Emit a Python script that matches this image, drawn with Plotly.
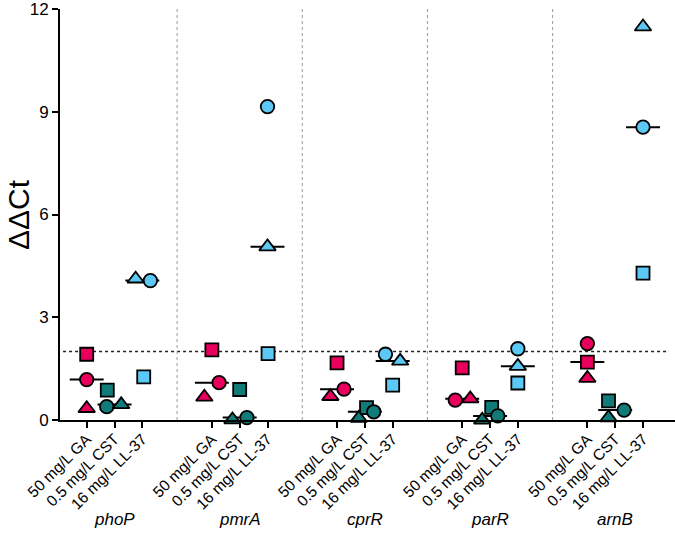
import numpy as np
import plotly.graph_objects as go

genes = ["phoP", "pmrA", "cprR", "parR", "arnB"]
treatments = ["50 mg/L GA", "0.5 mg/L CST", "16 mg/L LL-37"]

# values per gene: [GA, CST, LL-37]
square_vals = [[1.92, 0.87, 1.26], [2.05, 0.89, 1.94], [1.67, 0.36, 1.02], [1.52, 0.37, 1.08], [1.69, 0.56, 4.29]]
circle_vals = [[1.18, 0.39, 4.07], [1.09, 0.07, 9.15], [0.90, 0.24, 1.92], [0.58, 0.12, 2.08], [2.23, 0.29, 8.55]]
triangle_vals = [[0.34, 0.45, 4.12], [0.67, 0.01, 5.06], [0.69, 0.05, 1.72], [0.62, 0.00, 1.57], [1.22, 0.07, 11.48]]

# horizontal scatter offsets (category units) used to separate overlapping points
square_jit = [[0, -0.26, 0.05], [0, 0, 0.02], [0, 0.06, 0], [0, 0.06, 0], [0, -0.24, 0]]
circle_jit = [[0, -0.28, 0.29], [0.26, 0.26, 0], [0.25, 0.32, -0.26], [-0.25, 0.28, 0], [0, 0.32, 0]]
triangle_jit = [[0, 0.24, -0.24], [-0.27, -0.26, 0], [-0.24, -0.22, 0.27], [0.29, -0.28, 0], [0, -0.24, 0]]

threshold = 2
y_ticks = [0, 3, 6, 9, 12]

colors = ["#E8005C", "#117B79", "#5BC8F5"]
GROUP_STEP = 4.5

fig = go.Figure()

tickvals, ticktext = [], []
for g, gene in enumerate(genes):
    for t, tr in enumerate(treatments):
        base = GROUP_STEP * g + t
        tickvals.append(base)
        ticktext.append(tr)
        med = float(np.median([square_vals[g][t], circle_vals[g][t], triangle_vals[g][t]]))
        fig.add_trace(go.Scatter(x=[base - 0.61, base + 0.61], y=[med, med], mode="lines",
                                 line=dict(color="black", width=2), showlegend=False,
                                 hoverinfo="skip", cliponaxis=False))

for g in range(len(genes)):
    for t in range(len(treatments)):
        base = GROUP_STEP * g + t
        for vals, jit, sym, size in [(square_vals, square_jit, "square", 13),
                                     (circle_vals, circle_jit, "circle", 13.5),
                                     (triangle_vals, triangle_jit, "triangle-up", 14.5)]:
            fig.add_trace(go.Scatter(x=[base + jit[g][t]], y=[vals[g][t]], mode="markers",
                                     marker=dict(symbol=sym, size=size, color=colors[t],
                                                 line=dict(color="black", width=1.8)),
                                     showlegend=False, cliponaxis=False))

shapes = []
for g in range(len(genes) - 1):
    xs = GROUP_STEP * g + 3.25
    shapes.append(dict(type="line", xref="x", yref="y", x0=xs, x1=xs, y0=0, y1=12,
                       line=dict(color="#9a9a9a", width=1, dash="dot"), layer="below"))
shapes.append(dict(type="line", xref="paper", yref="y", x0=0.005, x1=0.99, y0=threshold, y1=threshold,
                   line=dict(color="#222", width=1.5, dash="dot"), layer="below"))

annotations = []
for g, gene in enumerate(genes):
    annotations.append(dict(x=GROUP_STEP * g + 1, xref="x", y=-0.242, yref="paper",
                            text=f"<i>{gene}</i>", showarrow=False, xanchor="center", yanchor="middle",
                            font=dict(size=17, color="black", family="Liberation Sans, Arial")))
annotations.append(dict(x=-60 / 615, xref="paper", y=0.5, yref="paper", text="ΔΔCt", textangle=-90,
                        showarrow=False, xanchor="left", yanchor="middle",
                        font=dict(size=30, color="black", family="Liberation Sans, Arial")))

fig.update_layout(
    width=675, height=555,
    margin=dict(l=60, r=0, t=7, b=135),
    plot_bgcolor="white", paper_bgcolor="white",
    shapes=shapes, annotations=annotations,
    font=dict(family="Liberation Sans, Arial", color="black"),
    xaxis=dict(range=[-0.96, 21.15], tickvals=tickvals, ticktext=ticktext, tickangle=-45,
               ticks="outside", ticklen=6, tickwidth=1.8, tickcolor="black",
               showline=True, linecolor="black", linewidth=2, showgrid=False, zeroline=False,
               ticklabelstandoff=-4,
               tickfont=dict(size=15.5, color="black")),
    yaxis=dict(range=[0, 12], tickvals=y_ticks, ticks="outside", ticklen=6, tickwidth=1.8,
               tickcolor="black", showline=True, linecolor="black", linewidth=2,
               showgrid=False, zeroline=False, ticklabeloverflow="allow",
               tickfont=dict(size=17, color="black")),
)

fig.write_html("out.html", config={"displayModeBar": False},
               post_script="document.body.style.margin='0';")
